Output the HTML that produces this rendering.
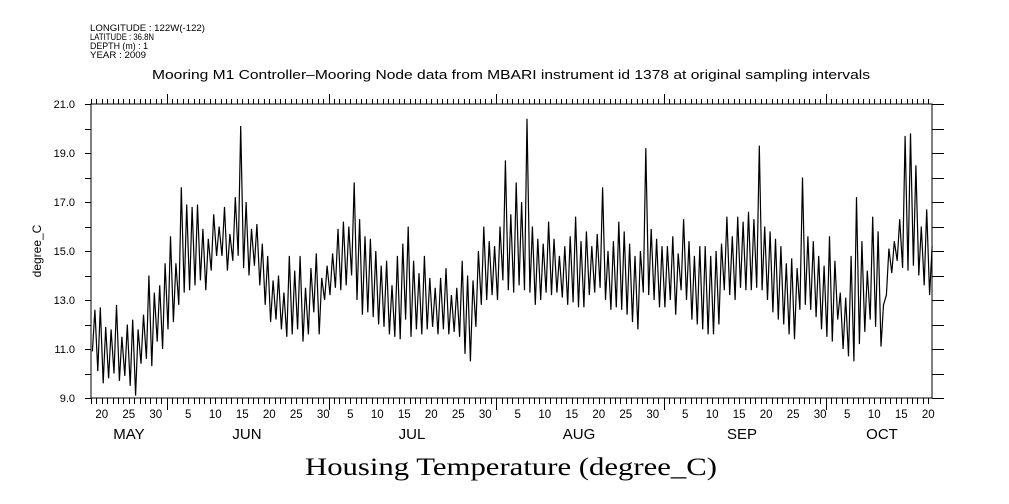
<!DOCTYPE html>
<html><head><meta charset="utf-8"><style>
body{margin:0;background:#fff;width:1009px;height:504px;overflow:hidden}
svg{display:block}
</style></head><body>
<svg id="chart" width="1009" height="504" viewBox="0 0 1009 504" font-family="Liberation Sans, sans-serif">
<g font-size="9" fill="#000">
<text x="90" y="31" textLength="115" lengthAdjust="spacingAndGlyphs">LONGITUDE : 122W(-122)</text>
<text x="90" y="40" textLength="64" lengthAdjust="spacingAndGlyphs">LATITUDE : 36.8N</text>
<text x="90" y="49" textLength="58" lengthAdjust="spacingAndGlyphs">DEPTH (m) : 1</text>
<text x="90" y="58" textLength="56" lengthAdjust="spacingAndGlyphs">YEAR : 2009</text>
</g>
<text x="152" y="79" font-size="13" textLength="718" lengthAdjust="spacingAndGlyphs">Mooring M1 Controller–Mooring Node data from MBARI instrument id 1378 at original sampling intervals</text>
<text x="0" y="0" font-size="12" text-anchor="middle" transform="translate(41,251) rotate(-90)">degree_C</text>
<text x="305" y="475" font-size="25" font-family="Liberation Serif, serif" textLength="412" lengthAdjust="spacingAndGlyphs">Housing Temperature (degree_C)</text>
<rect x="91" y="104" width="841" height="294" fill="none" stroke="#000" stroke-width="1"/>
<g id="axes"></g>
<path id="series" fill="none" stroke="#000" stroke-width="1.2"/>
</svg>
<script>
const dailyMax = [12.6,12.7,11.9,11.8,12.8,11.5,12.0,12.2,11.8,12.4,14.0,13.3,13.6,14.5,
15.6,14.5,17.6,16.9,16.8,16.9,15.9,15.5,16.5,16.0,16.8,15.7,17.2,20.1,17.0,15.9,16.1,15.3,14.8,13.8,14.0,13.3,14.8,14.2,14.8,13.5,14.3,14.9,13.9,14.4,
14.9,15.9,16.2,16.0,17.8,16.3,15.6,15.5,15.0,14.4,14.6,13.6,14.8,15.3,16.0,14.6,14.1,14.8,13.9,13.5,13.9,14.3,13.2,13.5,14.6,14.0,13.8,15.0,16.0,15.4,15.2,
16.0,18.7,16.5,17.8,17.0,20.4,16.0,15.5,15.3,16.2,15.5,14.8,15.2,15.6,16.4,15.4,15.8,15.2,15.7,17.6,15.0,15.4,16.2,15.8,15.3,14.8,15.0,19.2,15.9,15.5,15.2,
15.2,15.6,14.9,16.3,15.4,14.8,15.2,15.2,14.8,15.0,15.3,16.4,15.6,16.4,16.2,16.6,16.3,19.3,16.0,15.8,15.5,15.2,14.5,14.7,14.3,18.0,15.6,15.4,14.8,14.4,
15.6,14.6,13.3,13.1,14.8,17.2,15.4,14.2,16.4,15.8,12.8,15.1,15.4,16.3,19.7,19.8,18.5,16.0,16.7,15.2];
const dailyMin = [10.9,10.1,9.6,9.8,10.0,9.7,9.9,9.5,9.1,10.4,10.6,10.3,11.3,11.0,
11.8,12.1,12.8,13.3,13.4,13.6,13.8,13.4,14.2,14.8,14.8,14.2,14.6,14.8,14.3,14.0,14.4,13.6,12.8,12.1,12.2,11.8,11.5,11.6,11.8,11.3,11.6,12.5,11.6,13.0,
13.2,13.5,13.4,13.6,14.0,13.0,12.4,12.5,12.3,12.0,11.9,11.6,11.5,11.4,12.2,11.5,11.8,11.6,11.8,11.9,11.6,11.8,11.6,11.7,11.5,10.8,10.5,11.9,12.8,13.0,13.2,
13.0,13.8,13.4,13.3,13.6,13.4,13.3,12.8,13.0,13.3,13.2,13.3,13.1,12.8,12.9,12.7,12.7,13.2,13.3,13.5,13.0,12.6,12.7,12.6,12.4,12.1,11.8,13.3,13.2,13.0,12.7,
12.7,13.0,12.4,13.4,13.0,12.2,12.0,11.8,11.6,11.6,12.0,13.4,13.2,13.0,13.5,13.4,13.4,13.5,13.4,13.0,12.5,12.2,12.0,11.6,11.4,12.6,12.8,12.6,12.3,11.8,
11.5,11.3,12.2,11.0,10.7,10.5,11.2,11.7,12.2,11.9,11.1,13.2,14.1,14.6,14.3,14.2,14.4,14.0,13.6,13.2];
const yTickLabels = ["9.0","11.0","13.0","15.0","17.0","19.0","21.0"];
const monthNames = ["MAY","JUN","JUL","AUG","SEP","OCT"];
const monthLengths = [31,30,31,31,30,31];
const startDay = 18; // May 18

const X0=91, X1=932, Y0=398, Y1=104, DAYS=155.7, VMIN=9, VMAX=21;
function xs(d){return X0+(d/DAYS)*(X1-X0);}
function ys(v){return Y0-(v-VMIN)/(VMAX-VMIN)*(Y0-Y1);}
const NS="http://www.w3.org/2000/svg";
const axes=document.getElementById('axes');
function line(x1,y1,x2,y2,name){const l=document.createElementNS(NS,'line');l.setAttribute('x1',x1);l.setAttribute('y1',y1);l.setAttribute('x2',x2);l.setAttribute('y2',y2);l.setAttribute('stroke','#000');l.setAttribute('stroke-width','1');


axes.appendChild(l);}
function text(x,y,s,size,name){const t=document.createElementNS(NS,'text');t.setAttribute('x',x);t.setAttribute('y',y);t.setAttribute('font-size',size);t.setAttribute('text-anchor','middle');t.textContent=s;


axes.appendChild(t);}
for(let v=VMIN;v<=VMAX;v+=1){const y=Math.round(ys(v))+0.5;
line(X0-6,y,X0,y,'y-tick');line(X1,y,X1+12,y,'y-tick-right');}
yTickLabels.forEach(s=>{const y=ys(parseFloat(s));const t=document.createElementNS(NS,'text');t.setAttribute('x',X0-16);t.setAttribute('y',y+4);t.setAttribute('font-size','11');t.setAttribute('text-anchor','end');t.textContent=s;


axes.appendChild(t);});
let m=0, dom=startDay;
for(let d=0; d<=Math.floor(DAYS); d++){
  const x=Math.round(xs(d))+0.5;
  const major = dom===1;
  line(x,Y0,x,Y0+(major?12:6),'x-tick');
  line(x,Y1,x,Y1-(major?10:5),'x-tick-top');
  if(dom%5===0) text(xs(d),418,String(dom),11.5,'x-tick-label');
  dom++; if(dom>monthLengths[m]){dom=1;m++;}
}
const monthCenters=[129,247,412,579,742,882];
monthNames.forEach((n,i)=>text(monthCenters[i],439,n,15,'month-label'));
let p="";
for(let i=0;i<dailyMax.length;i++){
  const a=xs(i+0.25), b=xs(i+0.72);
  p+=(i?"L":"M")+a.toFixed(1)+","+ys(dailyMin[i]).toFixed(1)+"L"+b.toFixed(1)+","+ys(dailyMax[i]).toFixed(1);
}
document.getElementById('series').setAttribute('d',p);
</script>
</body></html>
